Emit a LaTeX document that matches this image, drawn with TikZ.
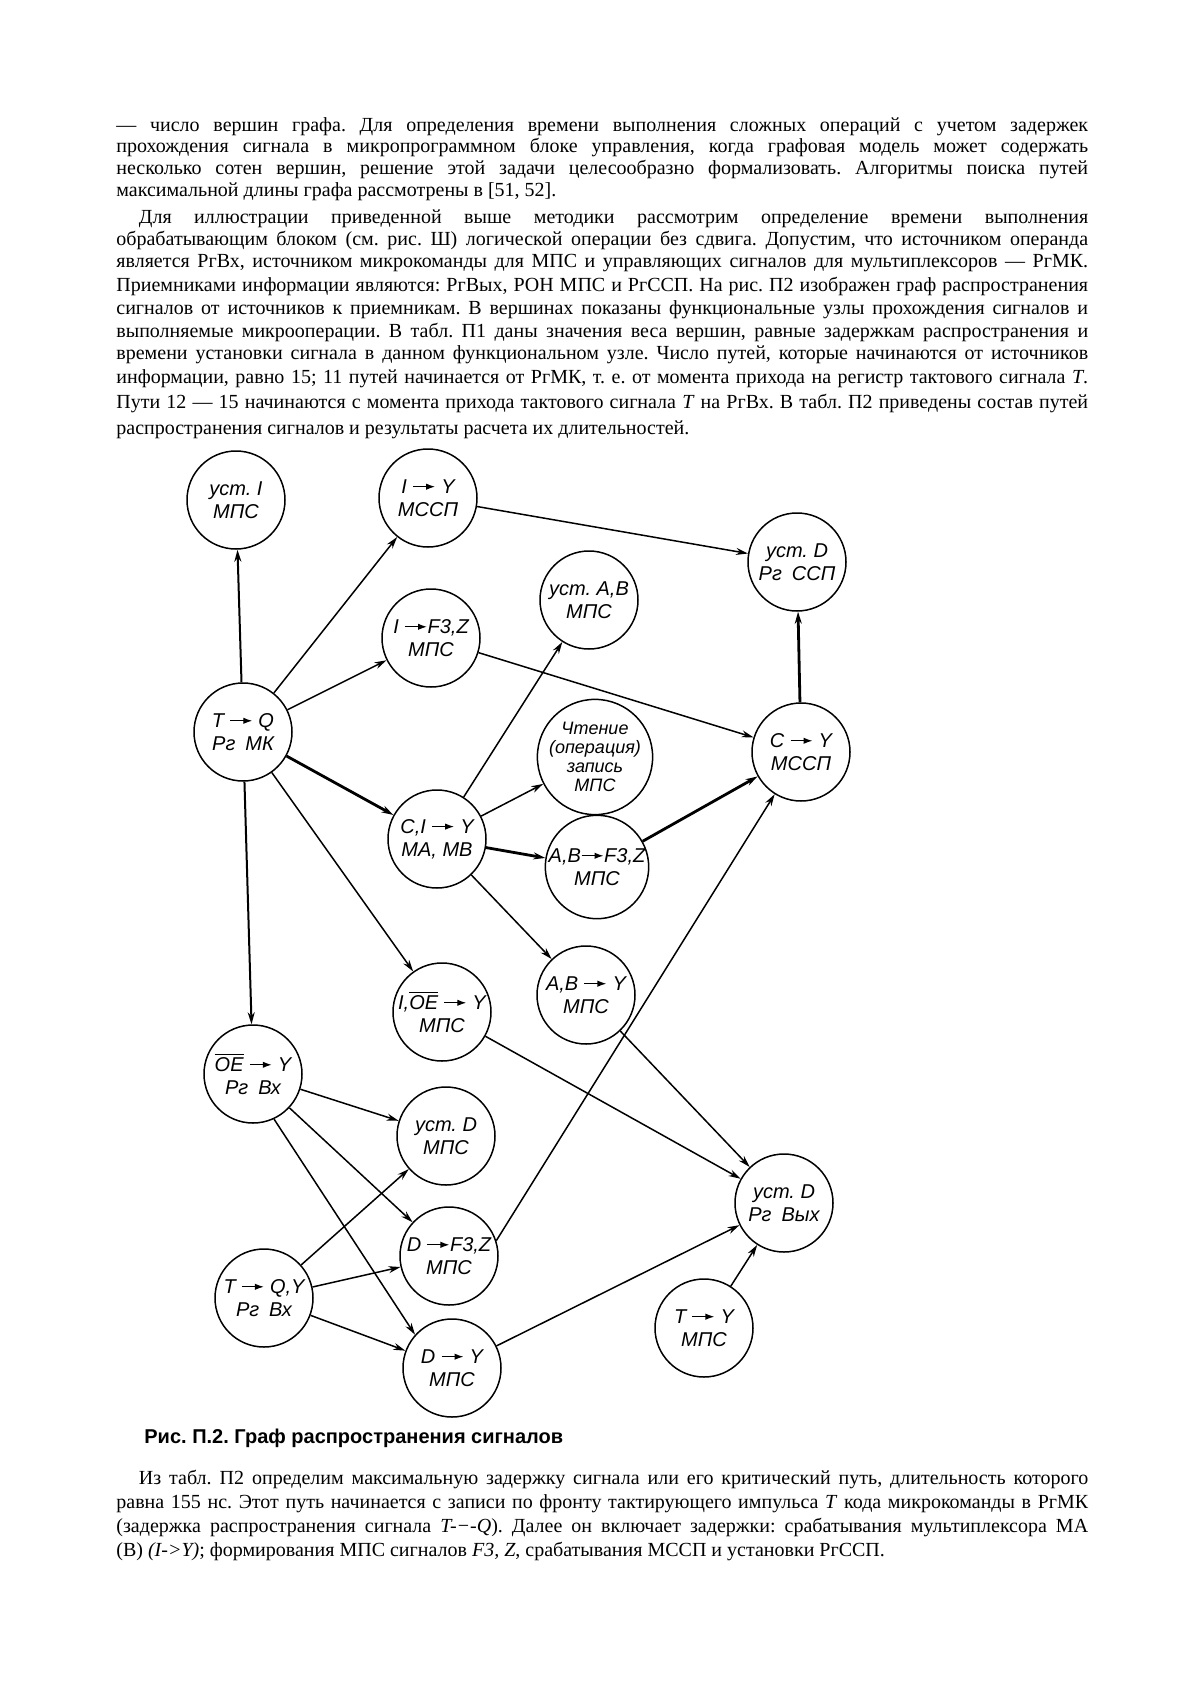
\documentclass[tikz,border=0pt]{standalone}
\usepackage{fontspec}
\setmainfont{Liberation Serif}
\newfontfamily\capfont{Liberation Sans}
\newfontfamily\drfont{Liberation Sans}
\usetikzlibrary{arrows.meta}
\newcommand\sarr{\tikz[baseline=-0.33em]\draw[line width=0.6pt,-{Latex[length=4.5pt,width=3.2pt]}] (0pt,0pt) -- (11pt,0pt);}
\newcommand\ovl[1]{$\overline{\hbox{#1}}$}
\tikzset{
  vtx/.style={circle, draw, line width=0.75pt, minimum size=49pt, inner sep=0pt, align=center,
              font=\drfont\itshape\fontsize{10}{11.5}\selectfont},
  ed/.style={line width=0.75pt, -{Stealth[length=6pt,width=3.5pt]}},
  edm/.style={ed, line width=1pt},
  edt/.style={ed, line width=1.4pt},
  txl/.style={anchor=base west, inner sep=0pt, font=\fontsize{10}{11}\selectfont},
}
\frenchspacing
\begin{document}
\frenchspacing
\begin{tikzpicture}[x=0.5pt,y=-0.5pt]
\fill[white] (0,0) rectangle (1200,1696);
\useasboundingbox (0,0) rectangle (1200,1696);
% ---------- top text ----------
\node[txl] (p1a) at (116,132) {\makebox[485.9pt][s]{— число вершин графа. Для определения времени выполнения сложных операций с учетом задержек}};
\node[txl] (p1b) at (116,153) {\makebox[485.9pt][s]{прохождения сигнала в микропрограммном блоке управления, когда графовая модель может содержать}};
\node[txl] (p1c) at (116,175) {\makebox[485.9pt][s]{несколько сотен вершин, решение этой задачи целесообразно формализовать. Алгоритмы поиска путей}};
\node[txl] (p1d) at (116,197) {максимальной длины графа рассмотрены в [51, 52].};
\node[txl] (p2a) at (138.5,223.6) {\makebox[474.7pt][s]{Для иллюстрации приведенной выше методики рассмотрим определение времени выполнения}};
\node[txl] (p2b) at (116,245.2) {\makebox[485.9pt][s]{обрабатывающим блоком (см. рис. Ш) логической операции без сдвига. Допустим, что источником операнда}};
\node[txl] (p2c) at (116,268) {\makebox[485.9pt][s]{является РгВх, источником микрокоманды для МПС и управляющих сигналов для мультиплексоров — РгМК.}};
\node[txl] (p2d) at (116,291.8) {\makebox[485.9pt][s]{Приемниками информации являются: РгВых, РОН МПС и РгССП. На рис. П2 изображен граф распространения}};
\node[txl] (p2e) at (116,314.5) {\makebox[485.9pt][s]{сигналов от источников к приемникам. В вершинах показаны функциональные узлы прохождения сигналов и}};
\node[txl] (p2f) at (116,337.2) {\makebox[485.9pt][s]{выполняемые микрооперации. В табл. П1 даны значения веса вершин, равные задержкам распространения и}};
\node[txl] (p2g) at (116,359.9) {\makebox[485.9pt][s]{времени установки сигнала в данном функциональном узле. Число путей, которые начинаются от источников}};
\node[txl] (p2h) at (116,383.7) {\makebox[485.9pt][s]{информации, равно 15; 11 путей начинается от РгМК, т. е. от момента прихода на регистр тактового сигнала \textit{T}.}};
\node[txl] (p2i) at (116,408.6) {\makebox[485.9pt][s]{Пути 12 — 15 начинаются с момента прихода тактового сигнала \textit{T} на РгВх. В табл. П2 приведены состав путей}};
\node[txl] (p2j) at (116,434.6) {распространения сигналов и результаты расчета их длительностей.};
% ---------- vertices ----------
\node[vtx] (ust1) at (236,500) {уст. I\\МПС};
\node[vtx] (iy) at (428,498) {I \sarr{} Y\\МССП};
\node[vtx] (ifz) at (431,638) {I \sarr{}F3,Z\\МПС};
\node[vtx] (mk) at (243,732) {T \sarr{} Q\\Рг\enspace МК};
\node[vtx] (ussp) at (797,562) {уст. D\\Рг\enspace ССП};
\node[vtx] (usab) at (589,600) {уст. А,В\\МПС};
\node[vtx, font=\drfont\itshape\fontsize{9}{9.5}\selectfont] (rd) at (595,757) {Чтение\\(операция)\\запись\\МПС};
\node[vtx] (cy) at (801,752) {C \sarr{} Y\\МССП};
\node[vtx] (ciy) at (437,839) {C,I \sarr{} Y\\МА, МВ};
\node[vtx] (abfz) at (597,867) {A,B\sarr{}F3,Z\\МПС};
\node[vtx] (aby) at (586,995) {A,B \sarr{} Y\\МПС};
\node[vtx] (ioe) at (442,1012) {I,\ovl{OE} \sarr{} Y\\МПС};
\node[vtx] (oe) at (253,1074) {\ovl{OE} \sarr{} Y\\Рг\enspace Вх};
\node[vtx] (usd) at (446,1136) {уст. D\\МПС};
\node[vtx] (dfz) at (449,1256) {D \sarr{}F3,Z\\МПС};
\node[vtx] (tqy) at (264,1298) {T \sarr{} Q,Y\\Рг\enspace Вх};
\node[vtx] (dy) at (452,1368) {D \sarr{} Y\\МПС};
\node[vtx] (out) at (784,1203) {уст. D\\Рг\enspace Вых};
\node[vtx] (ty) at (704,1328) {T \sarr{} Y\\МПС};
% ---------- connectors ----------
\draw[edm] (mk) -- (ust1);
\draw[ed] (mk) -- (iy);
\draw[ed] (mk) -- (ifz);
\draw[edt] (mk) -- (ciy);
\draw[ed] (mk) -- (ioe);
\draw[edm] (mk) -- (oe);
\draw[ed] (iy) -- (ussp);
\draw[ed] (ifz) -- (cy);
\draw[ed] (ciy) -- (usab);
\draw[ed] (ciy) -- (rd);
\draw[edt] (ciy) -- (abfz);
\draw[ed] (ciy) -- (aby);
\draw[edt] (abfz) -- (cy);
\draw[edt] (cy) -- (ussp);
\draw[ed] (dfz.18) -- (cy);
\draw[ed] (aby) -- (out);
\draw[ed] (ioe) -- (out);
\draw[ed] (dy) -- (out);
\draw[ed] (ty) -- (out);
\draw[ed] (oe) -- (usd);
\draw[ed] (oe) -- (dfz);
\draw[ed] (oe.-65) -- (dy.138);
\draw[ed] (tqy) -- (usd);
\draw[ed] (tqy) -- (dfz);
\draw[ed] (tqy) -- (dy);
% ---------- caption and bottom text ----------
\node[anchor=base west, inner sep=0pt, font=\capfont\bfseries\fontsize{10}{12}\selectfont] (cap) at (144,1443) {Рис. П.2. Граф распространения сигналов};
\node[txl] (p3a) at (138.5,1484) {\makebox[474.7pt][s]{Из табл. П2 определим максимальную задержку сигнала или его критический путь, длительность которого}};
\node[txl] (p3b) at (116,1508) {\makebox[485.9pt][s]{равна 155 нс. Этот путь начинается с записи по фронту тактирующего импульса \textit{T} кода микрокоманды в РгМК}};
\node[txl] (p3c) at (116,1532) {\makebox[485.9pt][s]{(задержка распространения сигнала \textit{T-−-Q}). Далее он включает задержки: срабатывания мультиплексора МА}};
\node[txl] (p3d) at (116,1556) {(В) \textit{(I->Y)}; формирования МПС сигналов \textit{F3, Z}, срабатывания МССП и установки РгССП.};
\end{tikzpicture}
\end{document}
